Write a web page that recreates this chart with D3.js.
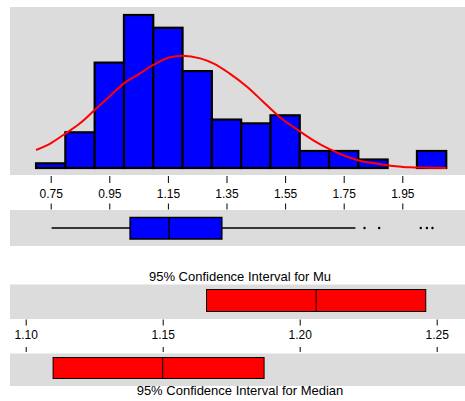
<!DOCTYPE html>
<html>
<head>
<meta charset="utf-8">
<script src="https://cdn.jsdelivr.net/npm/d3@7"></script>
<style>
    body { margin: 0; background: #fff; }
    svg { display: block; font-family: "Liberation Sans", Arial, sans-serif; }
    .band { fill: #dcdcdc; }
    .tick text { font-size: 12px; fill: #000; }
    .tick line { stroke: #000; }
</style>
</head>
<body>
<svg width="465" height="401"></svg>
<script>
// histogram bins (lower / upper edges) and heights
var binLow = [0.7, 0.8, 0.9, 1.0, 1.1, 1.2, 1.3, 1.4, 1.5, 1.6, 1.7, 1.8, 1.9, 2.0];
var binHigh = [0.8, 0.9, 1.0, 1.1, 1.2, 1.3, 1.4, 1.5, 1.6, 1.7, 1.8, 1.9, 2.0, 2.1];
var binCount = [0.55, 4.2, 12.4, 18.0, 16.5, 11.4, 5.7, 5.25, 6.2, 2.0, 2.0, 1.0, 0, 2.0];

// fitted normal curve
var curveX = [0.70, 0.75, 0.793, 0.85, 0.90, 0.95, 1.00, 1.055, 1.10, 1.157, 1.20, 1.26, 1.305, 1.36,
    1.42, 1.475, 1.53, 1.59, 1.645, 1.70, 1.755, 1.805, 1.855, 1.91, 1.975, 2.045, 2.10];
var curveY = [2.12, 2.91, 3.88, 5.26, 6.82, 8.39, 9.96, 11.14, 12.12, 13.02, 13.21, 12.9, 12.32, 11.14,
    9.56, 7.8, 6.04, 4.55, 3.29, 2.24, 1.41, 0.86, 0.55, 0.27, 0.08, 0.04, 0];

var histTicks = [0.75, 0.95, 1.15, 1.35, 1.55, 1.75, 1.95];

// boxplot: whisker low, q1, median, q3, whisker high
var boxStats = [0.753, 1.021, 1.154, 1.334, 1.790];
var outliers = [1.821, 1.871, 2.013, 2.034, 2.053];

// confidence intervals: low, centre, high
var ciMu = [1.166, 1.206, 1.246];
var ciMedian = [1.110, 1.150, 1.187];
var ciTicks = [1.10, 1.15, 1.20, 1.25];

var svg = d3.select("svg");

var x = d3.scaleLinear().domain([0.75, 1.95]).range([50.7, 402.3]);
var y = d3.scaleLinear().domain([0, 19]).range([168, 6.5]);
var xc = d3.scaleLinear().domain([1.10, 1.25]).range([25.7, 436.7]);

// gray panels
svg.append("rect").attr("class", "band").attr("x", 10).attr("y", 7).attr("width", 455).attr("height", 168);
svg.append("rect").attr("class", "band").attr("x", 10).attr("y", 210).attr("width", 455).attr("height", 36);
svg.append("rect").attr("class", "band").attr("x", 10).attr("y", 284.5).attr("width", 455).attr("height", 34.5);
svg.append("rect").attr("class", "band").attr("x", 10).attr("y", 353.5).attr("width", 455).attr("height", 32.5);

// histogram
svg.append("g")
    .selectAll("rect")
    .data(binCount)
    .enter()
    .append("rect")
    .attr("x", (d, i) => x(binLow[i]))
    .attr("width", (d, i) => x(binHigh[i]) - x(binLow[i]))
    .attr("y", (d) => y(d))
    .attr("height", (d) => y(0) - y(d))
    .attr("fill", "#0000ff")
    .attr("stroke", "#000")
    .attr("stroke-width", 2.2);

var line = d3.line()
    .x((d, i) => x(curveX[i]))
    .y((d) => y(d))
    .curve(d3.curveMonotoneX);

svg.append("path")
    .attr("d", line(curveY))
    .attr("fill", "none")
    .attr("stroke", "#ff0000")
    .attr("stroke-width", 2);

// shared axis between histogram and boxplot
var axTop = svg.append("g")
    .attr("transform", "translate(0,176)")
    .call(d3.axisBottom(x).tickValues(histTicks).tickFormat(d3.format(".2f")).tickSize(7).tickPadding(6));
axTop.select(".domain").remove();

var axBot = svg.append("g")
    .attr("transform", "translate(0,209.5)")
    .call(d3.axisTop(x).tickValues(histTicks).tickFormat("").tickSize(6));
axBot.select(".domain").remove();

// boxplot
var by = 228;
svg.append("line")
    .attr("x1", x(boxStats[0])).attr("x2", x(boxStats[4]))
    .attr("y1", by).attr("y2", by)
    .attr("stroke", "#000").attr("stroke-width", 1.5);
svg.append("rect")
    .attr("x", x(boxStats[1]))
    .attr("width", x(boxStats[3]) - x(boxStats[1]))
    .attr("y", 217.5).attr("height", 21.5)
    .attr("fill", "#0000ff").attr("stroke", "#000").attr("stroke-width", 1.5);
svg.append("line")
    .attr("x1", x(boxStats[2])).attr("x2", x(boxStats[2]))
    .attr("y1", 217.5).attr("y2", 239)
    .attr("stroke", "#000").attr("stroke-width", 1.5);
svg.selectAll("circle.out")
    .data(outliers)
    .enter()
    .append("circle")
    .attr("class", "out")
    .attr("cx", (d) => x(d))
    .attr("cy", by)
    .attr("r", 1.2)
    .attr("fill", "#000");

// confidence intervals
function drawCI(vals, y0, h) {
    svg.append("rect")
        .attr("x", xc(vals[0]))
        .attr("width", xc(vals[2]) - xc(vals[0]))
        .attr("y", y0).attr("height", h)
        .attr("fill", "#ff0000").attr("stroke", "#000").attr("stroke-width", 1);
    svg.append("line")
        .attr("x1", xc(vals[1])).attr("x2", xc(vals[1]))
        .attr("y1", y0).attr("y2", y0 + h)
        .attr("stroke", "#000").attr("stroke-width", 1);
}
drawCI(ciMu, 289.5, 22);
drawCI(ciMedian, 357.5, 21);

var ciAx1 = svg.append("g")
    .attr("transform", "translate(0,319.5)")
    .call(d3.axisBottom(xc).tickValues(ciTicks).tickFormat(d3.format(".2f")).tickSize(6).tickPadding(5));
ciAx1.select(".domain").remove();

var ciAx2 = svg.append("g")
    .attr("transform", "translate(0,352)")
    .call(d3.axisTop(xc).tickValues(ciTicks).tickFormat("").tickSize(5));
ciAx2.select(".domain").remove();

svg.append("text")
    .attr("x", 240).attr("y", 281)
    .attr("text-anchor", "middle")
    .attr("font-size", "13px")
    .text("95% Confidence Interval for Mu");

svg.append("text")
    .attr("x", 240).attr("y", 394.5)
    .attr("text-anchor", "middle")
    .attr("font-size", "13px")
    .text("95% Confidence Interval for Median");
</script>
</body>
</html>
